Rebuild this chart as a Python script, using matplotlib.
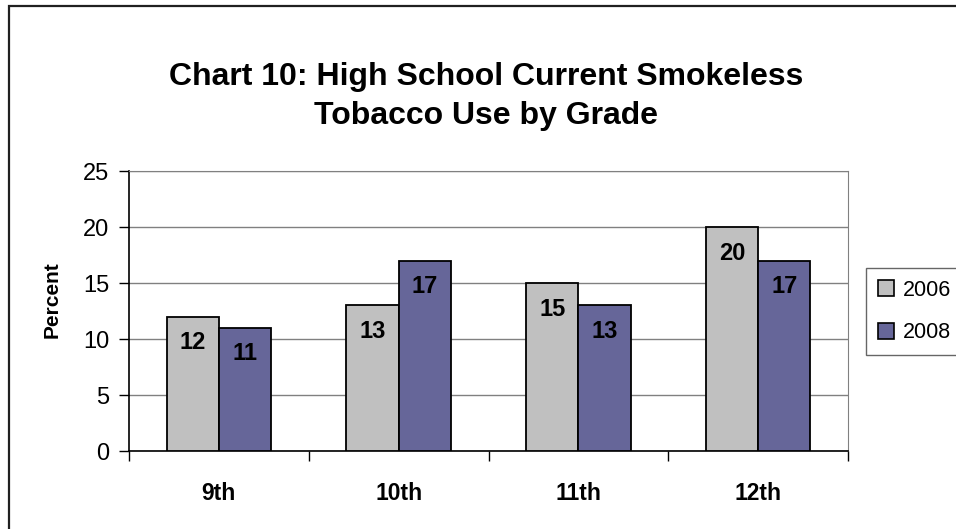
import numpy as np
import matplotlib.pyplot as plt
from matplotlib.patches import Rectangle
from matplotlib.lines import Line2D

plt.rcParams['font.family'] = ['Liberation Sans', 'DejaVu Sans']

grades = ['9th', '10th', '11th', '12th']
years = ['2006', '2008']
use_2006 = [12, 13, 15, 20]
use_2008 = [11, 17, 13, 17]
colors = ['#C0C0C0', '#666699']

fig = plt.figure(figsize=(9.56, 5.29), dpi=100)
ax = fig.add_axes([129/956, 1 - 451/529, (848 - 129)/956, (451 - 171)/529])

# outer chart border (right and bottom edges run off the canvas)
fig.patches.append(Rectangle((8.5/956, -0.1), 2.0, 1.1 - 6.5/529, transform=fig.transFigure,
                             fill=False, edgecolor='#202020', linewidth=1.6, zorder=0))

x = np.arange(len(grades))
w = 0.29
for i, (vals, c) in enumerate(zip([use_2006, use_2008], colors)):
    pos = x + (i - 0.5) * w
    bars = ax.bar(pos, vals, width=w, color=c, edgecolor='black', linewidth=1.3, zorder=3)
    for b, v in zip(bars, vals):
        ax.annotate(str(v), (b.get_x() + b.get_width() / 2, v), xytext=(0, -26),
                    textcoords='offset pixels', ha='center', va='center',
                    fontsize=17, fontweight='bold', zorder=4)

ax.set_ylim(0, 25)
ax.set_xlim(-0.5, 3.5)
ax.set_yticks(range(0, 26, 5))
ax.tick_params(axis='y', labelsize=17, length=7, width=1, direction='out', pad=7)
ax.yaxis.grid(True, color='#808080', linewidth=1, zorder=0)

ax.set_xticks(x)
ax.set_xticklabels(grades, fontsize=16.5, fontweight='bold')
ax.tick_params(axis='x', length=0, pad=22)
ax.set_xticks(np.arange(-0.5, 4.0, 1), minor=True)
ax.tick_params(axis='x', which='minor', length=7, width=1, direction='out')

for s in ['top', 'right']:
    ax.spines[s].set_color('#808080')
for s in ['left', 'bottom']:
    ax.spines[s].set_color('black')
    ax.spines[s].set_linewidth(1.2)

fig.text(52/956, 1 - 300/529, 'Percent', rotation=90, ha='center', va='center',
         fontsize=15, fontweight='bold')

fig.text(486/956, 1 - 77/529, 'Chart 10: High School Current Smokeless', ha='center', va='center',
         fontsize=23, fontweight='bold')
fig.text(486/956, 1 - 116/529, 'Tobacco Use by Grade', ha='center', va='center',
         fontsize=23, fontweight='bold')

handles = [Line2D([], [], marker='s', linestyle='none', markersize=11, markerfacecolor=c,
                  markeredgecolor='black', markeredgewidth=1.2) for c in colors]
fig.legend(handles, years, loc='upper left', bbox_to_anchor=(866/956, 1 - 268/529),
           fontsize=15.5, frameon=True, fancybox=False, edgecolor='#404040', handlelength=0.8,
           handletextpad=0.35, labelspacing=1.0, borderpad=0.55, borderaxespad=0)

fig.savefig('out.png', dpi=100)
